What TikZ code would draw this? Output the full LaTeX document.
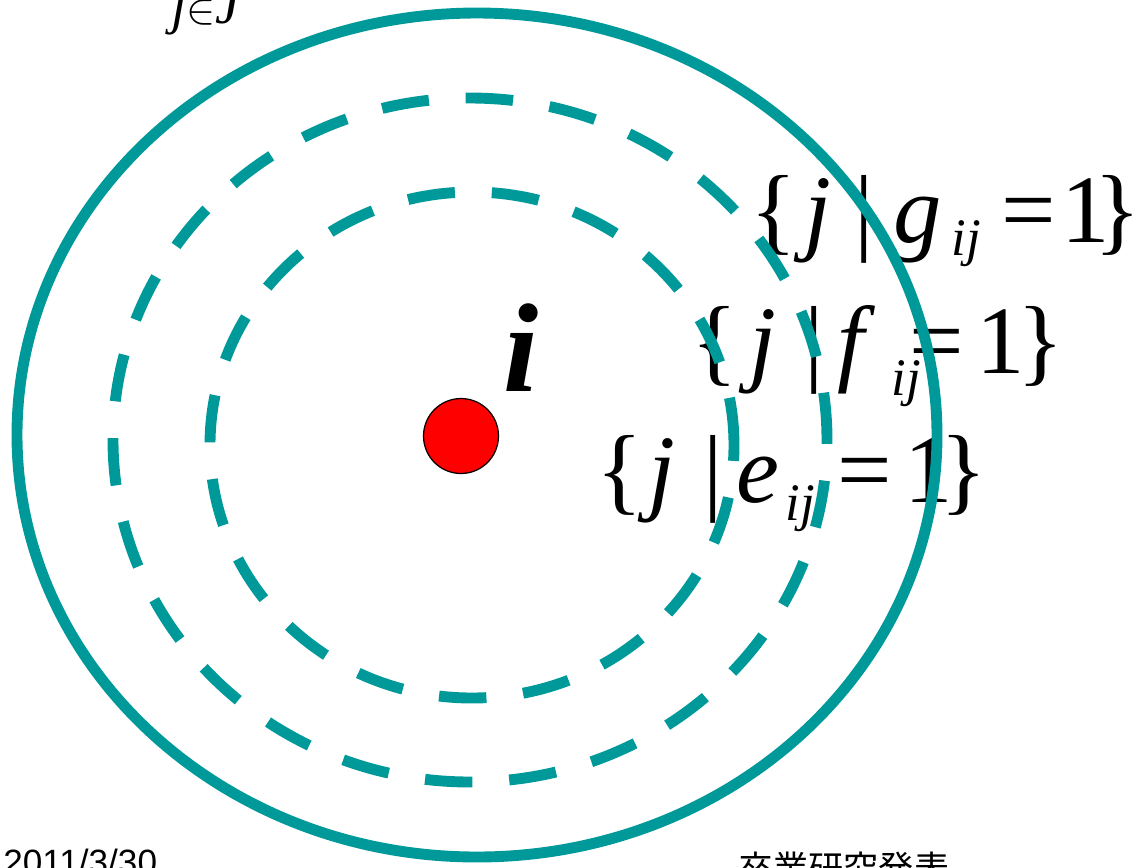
\documentclass[tikz,border=0pt]{standalone}
\usepackage{fontspec}
\setmainfont{Liberation Serif}
\newfontfamily\datefont{Liberation Sans}
\newfontfamily\cjk{Noto Sans CJK JP}
\definecolor{ringteal}{RGB}{0,153,153}
\begin{document}
\begin{tikzpicture}[x=0.02cm,y=0.02cm,
    ring/.style={draw=ringteal, line width=6.2pt},
    dashring/.style={ring, dash pattern=on 27pt off 21pt},
    glyph/.style={anchor=base, inner sep=0pt, font=\fontsize{55}{55}\selectfont},
    subglyph/.style={anchor=base, inner sep=0pt, font=\fontsize{30}{30}\selectfont\itshape},
    foot/.style={anchor=base west, inner sep=0pt}]
  \useasboundingbox (0,-867) rectangle (1137,0);

  % TOP (cut off)
  \node[anchor=base, inner sep=0pt, font=\fontsize{31}{31}\selectfont] (jinJ) at (207,-23)
    {\textit{j}$\in$\textit{J}};

  % SETS
  % g
  \foreach \x/\t [count=\k] in {774/\{, 818/\textit{j}, 864/|, 918/\textit{g}, 1029/=, 1086/1, 1118/\}}
    \node[glyph] (g\k) at (\x,-242) {\t};
  \node[subglyph] (gsub) at (966,-255) {ij};
  % f
  \foreach \x/\t [count=\k] in {715/\{, 763/\textit{j}, 814/|, 856/\textit{f}, 937/=, 1001/1, 1041/\}}
    \node[glyph] (f\k) at (\x,-373) {\t};
  \node[subglyph] (fsub) at (906,-395) {ij};
  % e
  \foreach \x/\t [count=\k] in {620/\{, 662/\textit{j}, 713/|, 758/\textit{e}, 865/=, 929/1, 964/\}}
    \node[glyph] (e\k) at (\x,-502) {\t};
  \node[subglyph] (esub) at (800,-520) {ij};

  % RINGS
  \draw[ring] (477,-435) ellipse [x radius=460, y radius=422];
  \draw[dashring] (470,-440) ellipse [x radius=357, y radius=342];
  \draw[dashring] (472,-445) ellipse [x radius=262, y radius=253];

  % POINT i
  \node[circle, draw, line width=0.7pt, fill=red, minimum size=1.5cm, inner sep=0pt] (dot) at (461,-436) {};
  \node[anchor=base, inner sep=0pt, font=\fontsize{72}{72}\selectfont\bfseries\itshape] (i) at (521,-391) {i};

  % FOOTER
  \node[foot, font=\datefont\fontsize{20}{20}\selectfont] (date) at (3,-874) {2011/3/30};
  \node[foot, font=\cjk\fontsize{20}{20}\selectfont] (title) at (738,-881) {卒業研究発表};
\end{tikzpicture}
\end{document}
